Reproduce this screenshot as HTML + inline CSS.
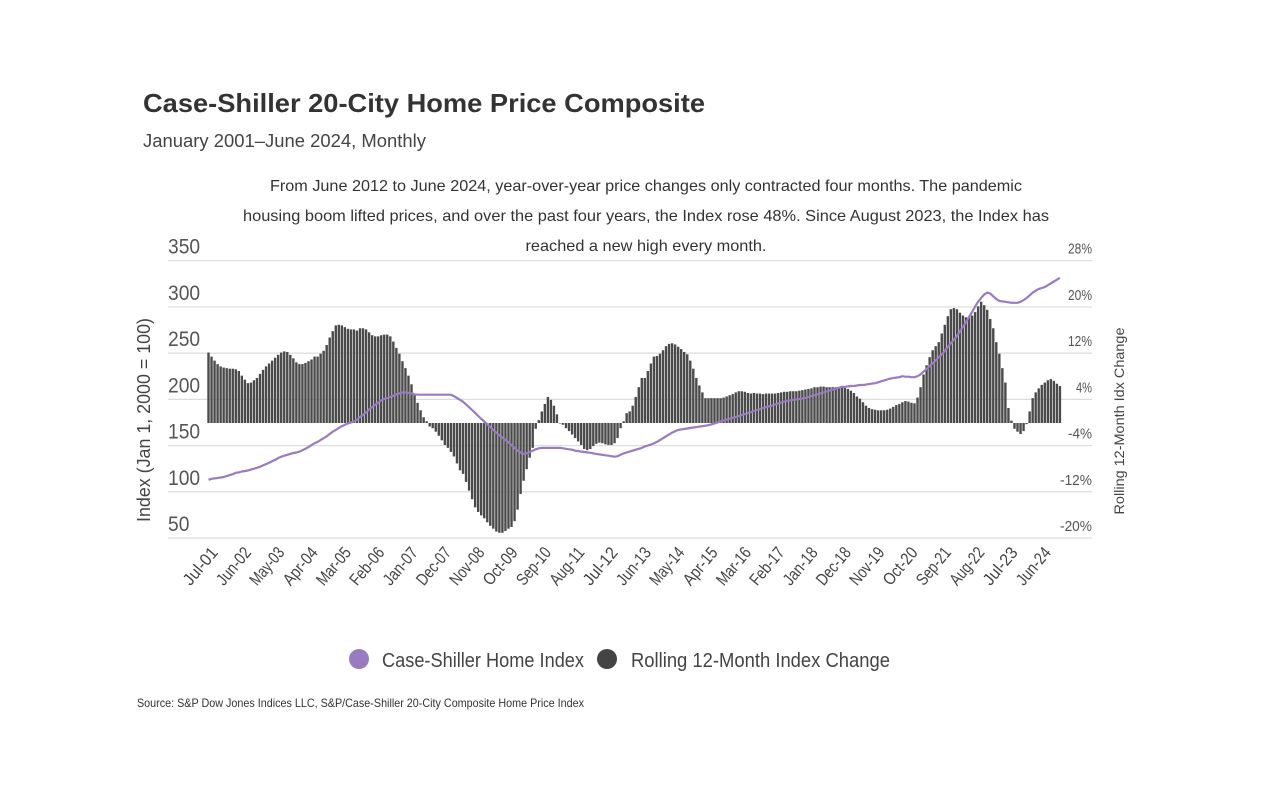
<!DOCTYPE html>
<html><head><meta charset="utf-8"><style>
html,body{margin:0;padding:0;background:#fff;}
svg{display:block;font-family:"Liberation Sans",sans-serif;}
</style></head><body>
<svg id="chart" width="1280" height="800" viewBox="0 0 1280 800" xmlns="http://www.w3.org/2000/svg">
<text x="143" y="112" font-size="26" font-weight="bold" fill="#333" textLength="562" lengthAdjust="spacingAndGlyphs">Case-Shiller 20-City Home Price Composite</text>
<text x="143" y="147" font-size="18" fill="#444" textLength="283" lengthAdjust="spacingAndGlyphs">January 2001–June 2024, Monthly</text>
<g font-size="16" fill="#333" text-anchor="middle">
<text x="646" y="191" textLength="752" lengthAdjust="spacingAndGlyphs">From June 2012 to June 2024, year-over-year price changes only contracted four months. The pandemic</text>
<text x="646" y="221" textLength="806" lengthAdjust="spacingAndGlyphs">housing boom lifted prices, and over the past four years, the Index rose 48%. Since August 2023, the Index has</text>
<text x="646" y="251" textLength="241" lengthAdjust="spacingAndGlyphs">reached a new high every month.</text>
</g>
<g id="grid"></g>
<g id="bars"></g>
<g id="line"></g>
<g id="yl"></g>
<g id="yr"></g>
<g id="xl"></g>
<text transform="translate(150,420) rotate(-90)" text-anchor="middle" font-size="18" fill="#444" textLength="204" lengthAdjust="spacingAndGlyphs">Index (Jan 1, 2000 = 100)</text>
<text transform="translate(1124,421) rotate(-90)" text-anchor="middle" font-size="14" fill="#444" textLength="187" lengthAdjust="spacingAndGlyphs">Rolling 12-Month Idx Change</text>
<g>
<g>
<circle cx="359" cy="659" r="10" fill="#9a7bc0"/>
<text x="382" y="667" font-size="20" fill="#444" textLength="202" lengthAdjust="spacingAndGlyphs">Case-Shiller Home Index</text>
</g>
<g>
<circle cx="607" cy="659" r="10" fill="#444"/>
<text x="631" y="667" font-size="20" fill="#444" textLength="259" lengthAdjust="spacingAndGlyphs">Rolling 12-Month Index Change</text>
</g>
</g>
<text x="137" y="707" font-size="12" fill="#333" textLength="447" lengthAdjust="spacingAndGlyphs">Source:  S&amp;P Dow Jones Indices LLC, S&amp;P/Case-Shiller 20-City Composite Home Price Index</text>
</svg>
<script>
const indexValues = [
113,114,114.5,115,115.5,116,117,118,119,120.5,121,122,
122.5,123,124,125,126,127,128.5,130,131.5,133,134.5,136.5,
138,139,140,141,142,142.5,143.5,145,146.5,148.5,150.5,152.5,
154,156,158,160,162.5,165,167,169,171,172.5,174,175,
176,178,181,183,186,189,191.5,194,196.5,199,200.5,201.5,
202.5,204,205.5,206.5,207.5,207.5,207,206.5,205.5,205,205,205,
205,205,205,205,205,205,205,205,205,203.5,201.5,199.5,
197.5,194.5,191.5,188.5,185.5,182,179,176,173,170,167,164,
161,158.5,156,153.5,150.5,147.5,144.5,142.5,141,141.5,143,144.5,
146,147,147.5,147.5,147.5,147.5,147.5,147.5,147.5,147,146.5,146,
145.5,144.5,144,143.5,143,142.5,142.3,141.5,141,140.5,140,139.5,
139,138.5,138,138.5,140,141.5,142.5,143.5,144.5,145.5,146.5,147.5,
149,150,151,152.5,154,156,158,160,162,164,165.5,167,
167.5,168,168.5,169,169.5,170,170.5,171,171.5,172,173,174,
175,176,177,178,179,180,181,182,183,184,185,186,
187.5,188.5,189.5,190.5,191.5,192.5,193.5,194.5,195.5,196.5,197.5,198.5,
199,199.5,200,200.5,201,201.5,202.5,203.5,204.5,205.5,206.5,207.5,
208.5,209.5,210.5,211.5,212.5,213.5,213.5,214,214.5,214.5,215,215.5,
215.5,216,216.5,217,217.5,218.5,219.5,220.5,221.5,222.5,223,223.5,
224,225,224.5,224.5,224,224,225,227,230,233,236,239,
242,245.5,248.5,252.5,256.5,260.5,264.5,268.5,273.5,278.5,283.5,289,
294.5,300.5,305.5,309.5,313.5,315.5,314.5,311.5,308.5,306.5,306,305.5,
305,304.5,304.5,304.5,305.5,307.5,309.5,312.5,315.5,317.5,319.5,320.5,
321.5,323.5,325.5,327.5,329.5,331.5];
const changeValues = [
12.2,11.5,10.8,10.2,9.8,9.6,9.5,9.4,9.4,9.3,9.0,8.2,
7.5,6.9,7.0,7.4,7.8,8.5,9.2,9.8,10.3,10.8,11.3,11.8,
12.2,12.4,12.3,11.8,11.2,10.5,10.2,10.2,10.4,10.7,11.0,11.5,
11.5,12.0,12.5,13.5,14.8,15.9,16.9,17.0,16.9,16.6,16.3,16.2,
16.2,16.0,16.4,16.4,16.2,15.7,15.2,15.0,15.0,15.2,15.3,15.3,
15.0,14.1,13.0,12.0,10.7,9.5,8.2,6.7,5.0,3.5,2.2,1.0,
0.3,-0.6,-0.9,-1.5,-2.2,-3.0,-3.8,-4.3,-5.0,-5.8,-7.0,-8.2,
-8.8,-10.2,-11.7,-13.2,-14.6,-15.4,-16.0,-16.5,-17.2,-17.8,-18.3,-18.8,
-19.0,-19.0,-18.7,-18.3,-18.0,-17.0,-15.0,-12.3,-10.0,-8.0,-6.0,-4.3,
-1.0,0.5,2.0,3.3,4.5,4.0,3.0,1.5,0.0,-0.3,-0.9,-1.4,
-2.0,-2.6,-3.2,-3.8,-4.5,-4.7,-4.5,-4.0,-3.6,-3.4,-3.5,-3.7,
-3.8,-3.8,-3.5,-2.6,-0.9,0.3,1.7,2.0,3.0,4.5,6.2,7.8,
7.8,9.0,10.3,11.5,11.6,12.0,12.6,13.3,13.7,13.8,13.6,13.2,
12.8,12.3,11.9,10.8,9.4,7.8,6.5,5.3,4.3,4.3,4.3,4.3,
4.3,4.3,4.4,4.6,4.8,5.0,5.3,5.5,5.5,5.4,5.2,5.1,
5.2,5.1,5.1,5.0,5.1,5.1,5.1,5.1,5.2,5.3,5.4,5.4,
5.5,5.5,5.5,5.6,5.7,5.8,5.9,6.0,6.2,6.2,6.3,6.3,
6.2,6.2,6.2,6.2,6.2,6.2,6.1,5.9,5.6,5.2,4.6,4.2,
3.6,3.0,2.6,2.4,2.3,2.2,2.2,2.2,2.3,2.5,2.8,3.1,
3.3,3.6,3.8,3.7,3.5,3.4,4.4,6.2,8.4,10.0,11.4,12.6,
13.3,14.0,15.5,17.0,18.5,19.7,19.9,19.7,19.1,18.6,18.3,18.3,
18.6,19.2,20.2,21.0,20.4,19.6,18.0,16.4,14.0,12.0,9.5,7.0,
2.6,0.4,-1.0,-1.5,-1.9,-1.4,-0.2,2.0,4.3,5.3,6.0,6.6,
7.0,7.4,7.6,7.3,6.8,6.4];
const leftTicks = [350,300,250,200,150,100,50];
const rightTicks = ["28%","20%","12%","4%","-4%","-12%","-20%"];
const xTickLabels = ["Jul-01","Jun-02","May-03","Apr-04","Mar-05","Feb-06","Jan-07","Dec-07","Nov-08","Oct-09","Sep-10","Aug-11","Jul-12","Jun-13","May-14","Apr-15","Mar-16","Feb-17","Jan-18","Dec-18","Nov-19","Oct-20","Sep-21","Aug-22","Jul-23","Jun-24"];

const NS="http://www.w3.org/2000/svg";
const step=3.03, x0=208.5;
function xAt(i){return x0+i*step;}
function yLeft(v){return 538-(v-50)*0.9243;}
function yBar(p){return 423-p*5.776;}
function mk(tag,attrs,parent){const e=document.createElementNS(NS,tag);for(const k in attrs)e.setAttribute(k,attrs[k]);parent.appendChild(e);return e;}

const grid=document.getElementById('grid');
leftTicks.forEach((v,k)=>{
  const gy=yLeft(v);
  const gl=mk('line',{x1:168,x2:1092,y1:gy,y2:gy,stroke:'#dcdcdc','stroke-width':1.2},grid);
  
  
  const s=String(v);
  const t=mk('text',{x:168,y:gy-7,'font-size':21,fill:'#555',textLength:s.length*10.7,lengthAdjust:'spacingAndGlyphs'},document.getElementById('yl'));
  t.textContent=s;
  
  
  const r=mk('text',{x:1092,y:gy-7,'text-anchor':'end','font-size':15,fill:'#555',textLength:rightTicks[k].length*8,lengthAdjust:'spacingAndGlyphs'},document.getElementById('yr'));
  r.textContent=rightTicks[k];
  
  
});

const bars=document.getElementById('bars');
changeValues.forEach((p,i)=>{
  const y=yBar(p), b=yBar(0);
  const r=mk('rect',{x:xAt(i)-1.2,y:Math.min(y,b),width:2.4,height:Math.max(0.5,Math.abs(b-y)),fill:'#4a4a4a'},bars);
  
  
});

const pts=indexValues.map((v,i)=>xAt(i).toFixed(1)+','+yLeft(v).toFixed(1)).join(' ');
const pl=mk('polyline',{points:pts,fill:'none',stroke:'#9a7bc0','stroke-width':2.2,'stroke-linejoin':'round'},document.getElementById('line'));



const xl=document.getElementById('xl');
xTickLabels.forEach((s,k)=>{
  const x=xAt(6+11*k)-8;
  const t=mk('text',{transform:'translate('+x.toFixed(1)+',553) rotate(-50)','text-anchor':'end','font-size':17,fill:'#444',textLength:s.length*7.3,lengthAdjust:'spacingAndGlyphs'},xl);
  t.textContent=s;
  
  
});
</script>
</body></html>
